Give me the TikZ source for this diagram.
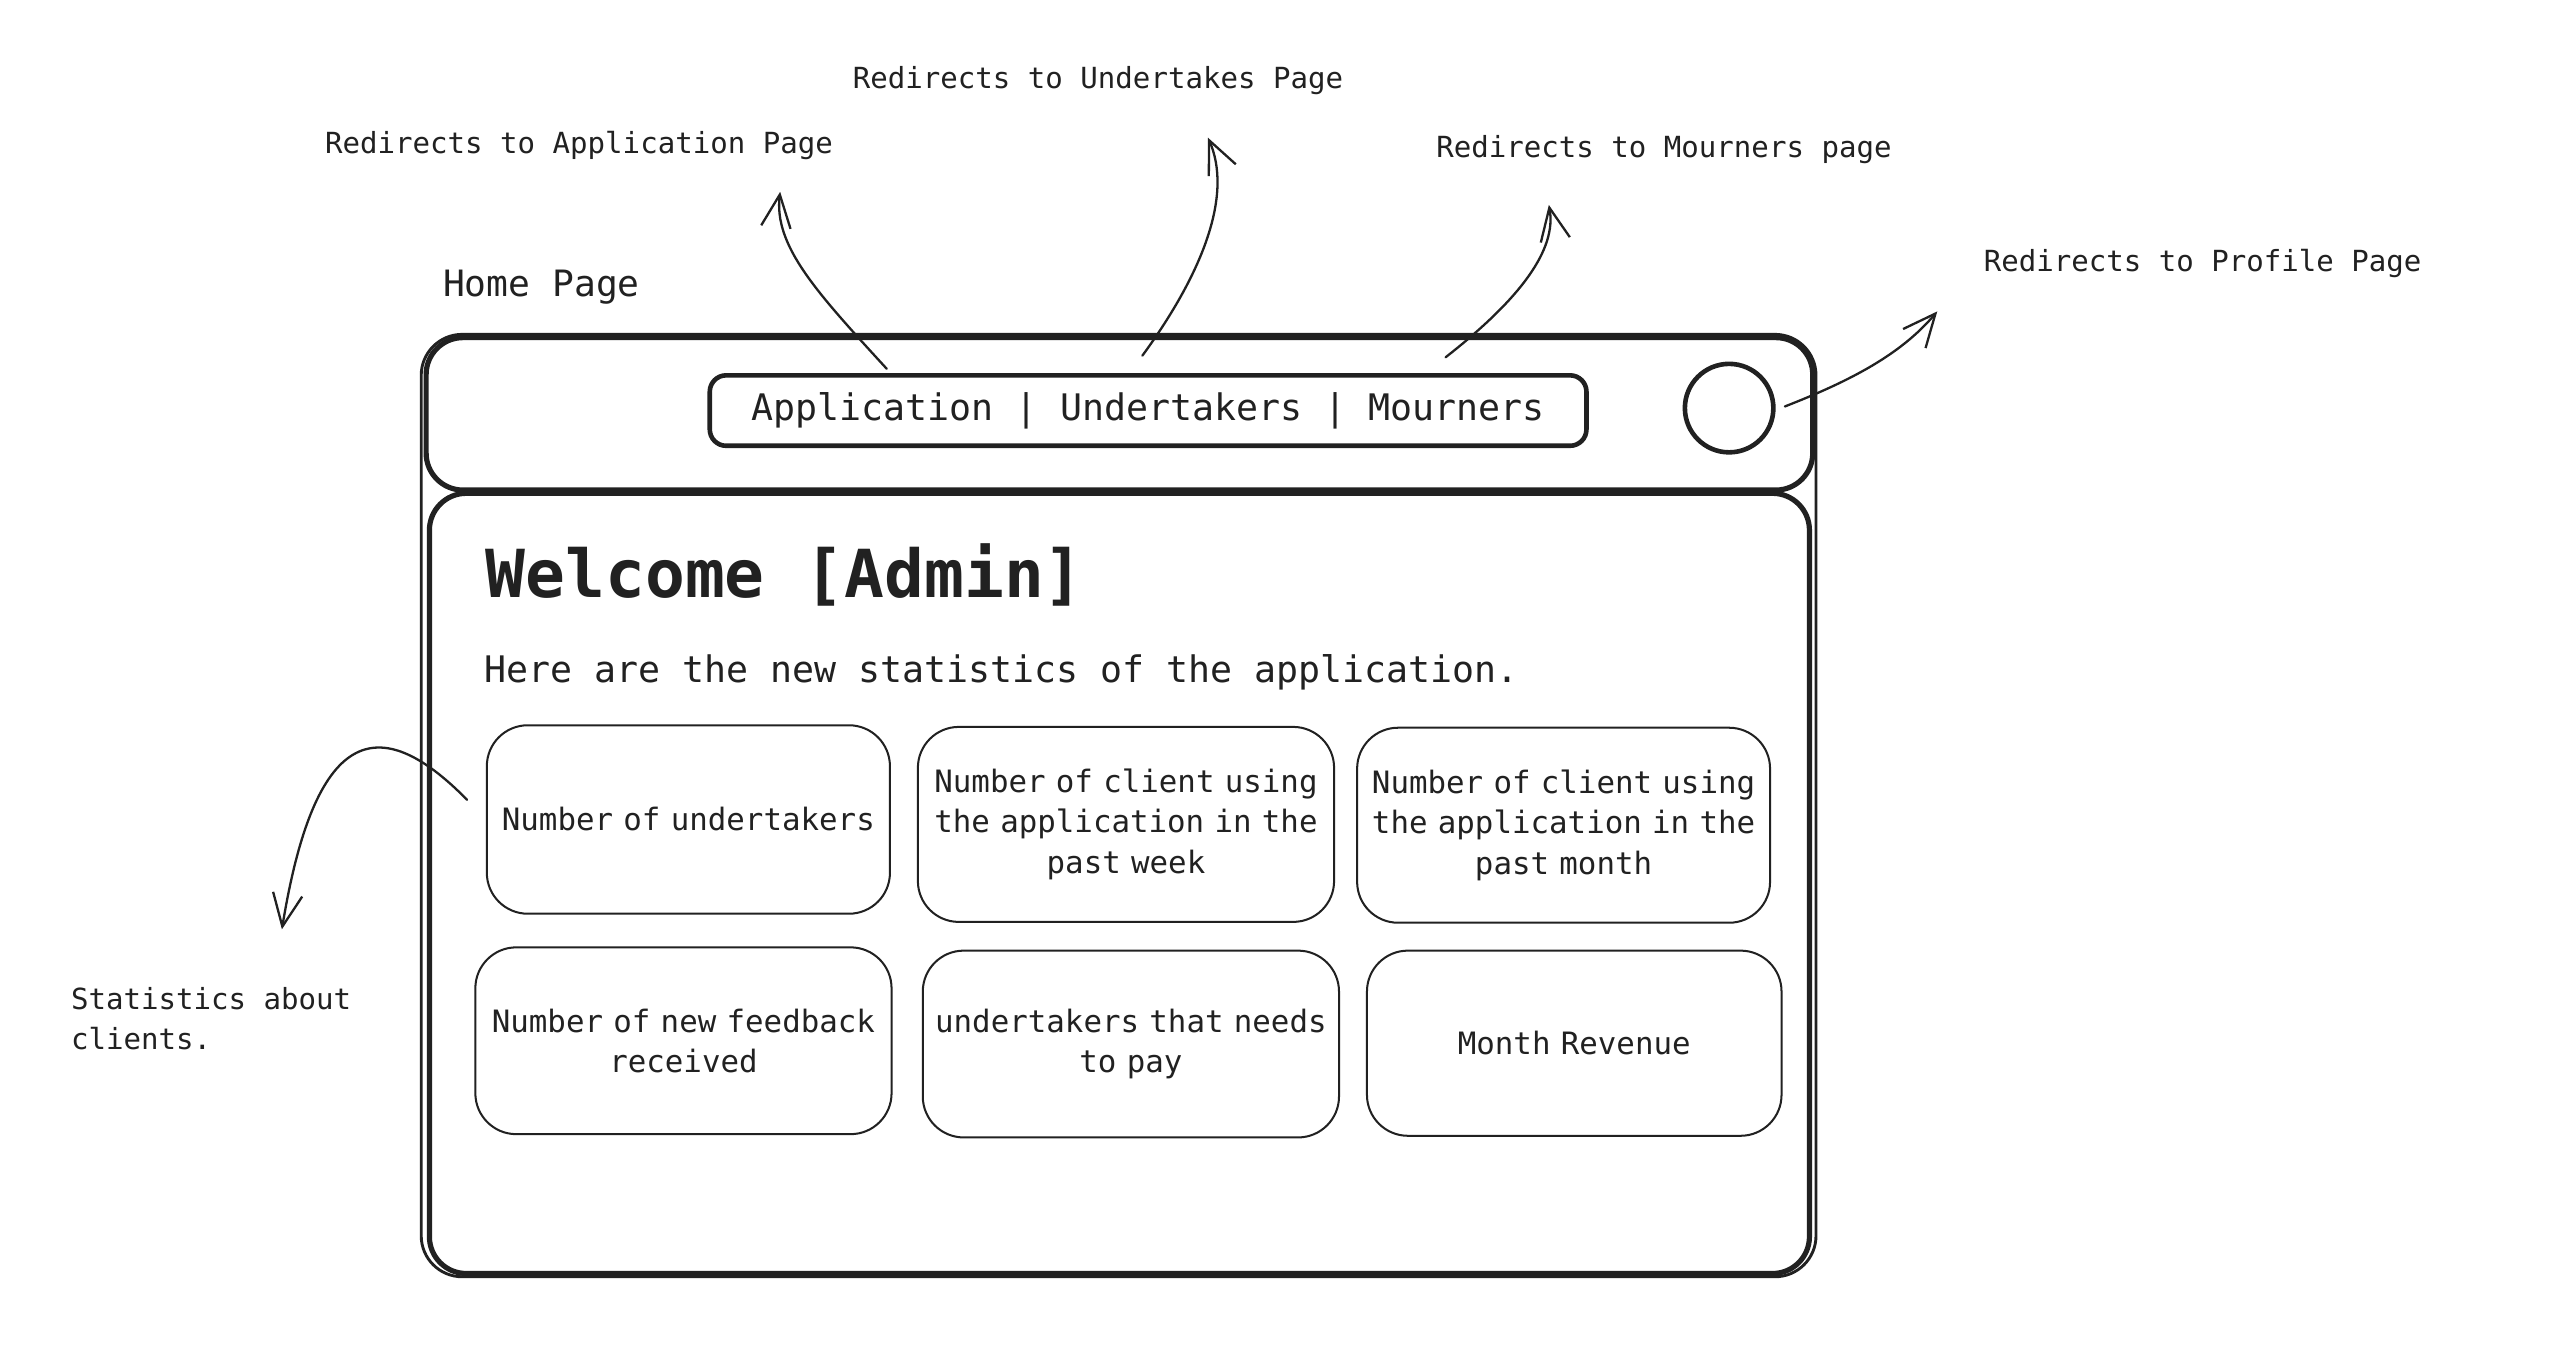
\documentclass[tikz,border=0pt]{standalone}
\usepackage{fontspec}
\usepackage{tikz}
\usetikzlibrary{arrows.meta}
\newfontfamily\sketchfont{DejaVu Sans Mono}
\tikzset{
label/.style={
  font=\sketchfont\fontsize{10.1}{14}\selectfont,
  inner sep=0pt,
  anchor=west
},
card/.style={
  draw,
  rounded corners=0.5cm,
  line width=0.7pt,
  align=center,
  text width=4.8cm,
  inner sep=0pt,
  font=\sketchfont\fontsize{10.7}{14}\selectfont
},
frame/.style={
  draw,
  line width=1.8pt,
  rounded corners=0.45cm
},
}

\begin{document}
\begin{tikzpicture}[x=0.02cm,y=-0.02cm,line cap=round,line join=round,color={black!87}]
\useasboundingbox (0,0) rectangle (1565,833.4);
% the labels
\node[label] (appl) at (198,89) {Redirects to Application Page};
\node[label] (undl) at (520,49) {Redirects to Undertakes Page};
\node[label] (mrnl) at (876,91) {Redirects to Mourners page};
\node[label] (prfl) at (1210,161) {Redirects to Profile Page};
\node[label,align=left,anchor=north west] (statl) at (43,602) {Statistics about\\clients.};
\node[label,font=\sketchfont\fontsize{12.6}{15}\selectfont] (home) at (270,175) {Home Page};
% the window
\draw[line width=1pt,rounded corners=0.5cm] (257,204) rectangle (1108,779);
\draw[frame] (260,206) rectangle (1106,299);
\draw[frame] (262,301) rectangle (1104,777);
\node[draw,line width=1.6pt,rounded corners=0.2cm,minimum width=10.7cm,minimum height=0.86cm,
  font=\sketchfont\fontsize{12.7}{15}\selectfont] (nav) at (700.5,250.5)
  {Application | Undertakers | Mourners};
\node[draw,circle,line width=1.6pt,minimum size=1.08cm,inner sep=0pt] (avatar) at (1055,249) {};
\node[label,font=\sketchfont\bfseries\fontsize{23}{26}\selectfont] (welcome) at (296,351) {Welcome [Admin]};
\node[label,font=\sketchfont\fontsize{12.7}{15}\selectfont] (intro) at (295,410) {Here are the new statistics of the application.};
% the cards
\node[card,minimum width=4.92cm,minimum height=2.3cm] (card-1-1) at (420,500) {Number of undertakers};
\node[card,minimum width=5.08cm,minimum height=2.38cm] (card-1-2) at (687,503) {Number of client using\\the application in the\\past week};
\node[card,minimum width=5.04cm,minimum height=2.38cm] (card-1-3) at (954,503.5) {Number of client using\\the application in the\\past month};
\node[card,minimum width=5.08cm,minimum height=2.28cm] (card-2-1) at (417,635) {Number of new feedback\\received};
\node[card,minimum width=5.08cm,minimum height=2.28cm] (card-2-2) at (690,637) {undertakers that needs\\to pay};
\node[card,minimum width=5.06cm,minimum height=2.26cm] (card-2-3) at (960.5,636.5) {Month Revenue};
% the arrow ends
\coordinate (appS) at (541,225);
\coordinate (appE) at (476,117);
\coordinate (undS) at (697,217);
\coordinate (undE) at (737,84);
\coordinate (mrnS) at (882,218);
\coordinate (mrnE) at (945,125);
\coordinate (prfS) at (1089,248);
\coordinate (prfE) at (1182,190);
\coordinate (statS) at (285,488);
\coordinate (statE) at (172,567);
% the arrows
\begin{scope}[line width=0.8pt,>={Straight Barb[length=4mm,width=3.6mm]}]
\draw[->] (appS) .. controls (498,178) and (472,150) .. (appE);
\draw[->] (undS) .. controls (735,165) and (752,118) .. (undE);
\draw[->] (mrnS) .. controls (928,182) and (950,152) .. (mrnE);
\draw[->] (prfS) .. controls (1130,232) and (1160,216) .. (prfE);
\draw[->] (statS) .. controls (230,432) and (192,445) .. (statE);
\end{scope}
\end{tikzpicture}
\end{document}
